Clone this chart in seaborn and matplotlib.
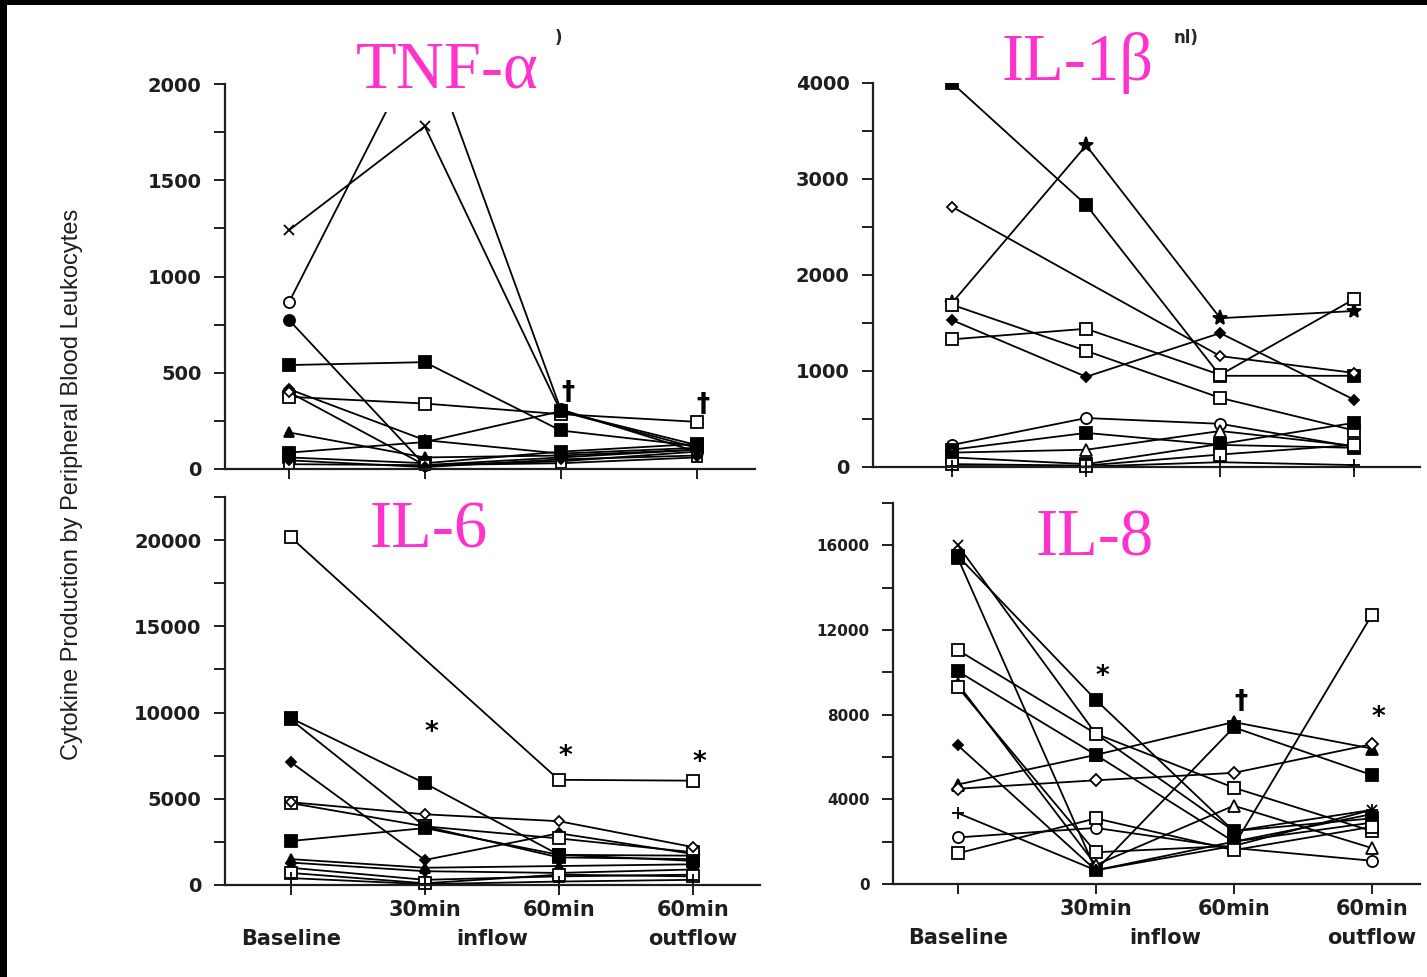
import numpy as np
import pandas as pd
import seaborn as sns
import matplotlib
matplotlib.use("Agg")
import matplotlib.pyplot as plt
from matplotlib.patches import Rectangle

# time points (x categories)
times = ["Baseline", "30min inflow", "60min inflow", "60min outflow"]
x_labels = ["\nBaseline", "30min", "60min", "60min\noutflow"]

# one row per patient, values at the 4 time points
tnf_values = [
    [1240, 1780, 300, 110],
    [865, 2250, 310, 90],
    [775, 20, 60, 100],
    [540, 555, 200, 120],
    [415, 150, 80, 110],
    [375, 340, 285, 245],
    [400, 20, 40, 90],
    [190, 60, 70, 100],
    [85, 140, 300, 125],
    [60, 30, 90, 130],
    [25, 20, 30, 60],
    [45, 10, 50, 70],
]
il1_values = [
    [4000, 2730, 950, 950],
    [1710, 3350, 1550, 1625],
    [2710, 1930, 1155, 980],
    [1690, 1210, 720, 380],
    [1530, 940, 1395, 700],
    [1330, 1440, 960, 1750],
    [230, 510, 450, 210],
    [180, 355, 230, 200],
    [150, 180, 375, 220],
    [100, 30, 240, 460],
    [30, 15, 130, 230],
    [10, 5, 50, 20],
]
il6_values = [
    [20170, 13100, 6100, 6050],
    [9680, 5900, 1750, 1700],
    [9600, 3400, 1600, 1500],
    [7130, 1450, 3000, 1800],
    [4750, 3400, 2700, 1900],
    [4800, 4100, 3700, 2200],
    [2550, 3300, 1750, 1400],
    [1500, 1000, 1100, 1200],
    [1300, 800, 700, 900],
    [1000, 300, 500, 600],
    [700, 100, 600, 500],
    [400, 50, 200, 300],
]
il8_values = [
    [16000, 7100, 2500, 3500],
    [15500, 8700, 2500, 3100],
    [15400, 650, 7400, 5150],
    [11050, 7100, 4550, 2500],
    [10050, 6100, 2000, 2900],
    [9450, 900, 3700, 1700],
    [9300, 1500, 1800, 12700],
    [6550, 650, 2000, 3300],
    [4700, 6100, 7650, 6400],
    [4500, 4900, 5250, 6600],
    [3350, 650, 1800, 3500],
    [2200, 2650, 1700, 1100],
    [1450, 3100, 1600, 2700],
]

# significance marks: (time index, value, symbol)
tnf_marks = [(2, 395, "†"), (3, 330, "†")]
il6_marks = [(1, 8800, "*"), (2, 7400, "*"), (3, 7070, "*")]
il8_marks = [(1, 9770, "*"), (2, 8590, "†"), (3, 7830, "*")]

# marker styles (marker, filled, size); a 4th item lists the points that get a marker
tnf_styles = [("x", True, 7), ("o", False, 8), ("o", True, 8), ("s", True, 8),
              ("D", True, 5), ("s", False, 8), ("D", False, 5), ("^", True, 7),
              ("s", True, 8), ("s", True, 8), ("s", False, 7), ("D", True, 5)]
il1_styles = [("s", True, 8), ("*", True, 11), ("D", False, 5, [0, 2, 3]),
              ("s", False, 8), ("D", True, 5), ("s", False, 8), ("o", False, 8),
              ("s", True, 8), ("^", False, 8), ("s", True, 8), ("s", False, 8),
              ("+", True, 8)]
il6_styles = [("s", False, 8, [0, 2, 3]), ("s", True, 8), ("s", True, 8),
              ("D", True, 5), ("s", False, 8), ("D", False, 5), ("s", True, 8),
              ("^", True, 7), ("D", True, 5), ("o", True, 6), ("s", False, 8),
              ("+", True, 8)]
il8_styles = [("x", True, 7), ("s", True, 8), ("s", True, 8), ("s", False, 8),
              ("s", True, 8), ("^", False, 8), ("s", False, 8), ("D", True, 5),
              ("^", True, 8), ("D", False, 6), ("+", True, 8), ("o", False, 8),
              ("s", False, 8)]

sns.set_style("ticks")
plt.rcParams["font.family"] = ["DejaVu Sans"]

W, H = 1427, 977
fig = plt.figure(figsize=(W / 100, H / 100), dpi=100)
x_pos = np.arange(len(times))
pink = "#ff33cc"
ink = "#1e1e1e"


def rect_px(left, right, zero_px, top_px, top_val, lo_val):
    ppu = (zero_px - top_px) / top_val
    bottom = zero_px - lo_val * ppu
    return [left / W, (H - bottom) / H, (right - left) / W, (bottom - top_px) / H]


def panel(rect, xlim, top_val, values, styles, majors, minors, marks,
          ysize=14, bottom=False):
    lo = -0.02 * top_val
    ax = fig.add_axes(rect)
    for vals, st in zip(values, styles):
        m, filled, ms = st[:3]
        every = st[3] if len(st) > 3 else None
        sns.lineplot(x=x_pos, y=vals, ax=ax, color="black", lw=1.3,
                     marker=m, markersize=ms, markevery=every,
                     markerfacecolor="black" if filled else "white",
                     markeredgecolor="black", markeredgewidth=1.3)
    ax.set_xlim(*xlim)
    ax.set_ylim(lo, top_val)
    sns.despine(ax=ax)
    ax.spines["bottom"].set_position(("data", 0))
    ax.spines["left"].set_bounds(0, top_val)
    for s in ["left", "bottom"]:
        ax.spines[s].set_linewidth(1.6)
        ax.spines[s].set_color(ink)
    ax.set_yticks(majors, [str(v) for v in majors])
    ax.set_yticks(minors, minor=True)
    ax.tick_params(axis="y", which="both", length=8, width=1.4, pad=9,
                   labelsize=ysize, colors=ink)
    ax.set_xticks(x_pos)
    ax.tick_params(axis="x", which="major", length=7, width=1.4, pad=4,
                   labelsize=15, colors=ink)
    if bottom:
        ax.set_xticklabels(x_labels)
        ax.set_xticks([1.5], ["\ninflow"], minor=True)
        ax.tick_params(axis="x", which="minor", length=0, pad=11,
                       labelsize=15, colors=ink)
        for lab in ax.get_xticklabels() + ax.get_xticklabels(minor=True):
            lab.set_linespacing(1.55)
    else:
        ax.set_xticklabels([])
    for lab in ax.get_xticklabels() + ax.get_xticklabels(minor=True) + ax.get_yticklabels():
        lab.set_fontweight("bold")
    for xi, v, sym in marks:
        ax.text(xi + 0.05, v, sym, ha="center", va="center", fontsize=19,
                weight="bold", color="black")
    ax.set_xlabel("")
    ax.set_ylabel("")
    return ax


panel(rect_px(225, 755, 469, 84, 2000, -40), (-0.47, 3.43), 2000, tnf_values,
      tnf_styles, [0, 500, 1000, 1500, 2000], [250, 750, 1250, 1750], tnf_marks)
panel(rect_px(873, 1420, 467, 83, 4000, -80), (-0.59, 3.49), 4000, il1_values,
      il1_styles, [0, 1000, 2000, 3000, 4000], [500, 1500, 2500, 3500], [])
panel(rect_px(225, 760, 885, 497, 22500, -450), (-0.49, 3.5), 22500, il6_values,
      il6_styles, [0, 5000, 10000, 15000, 20000],
      [2500, 7500, 12500, 17500, 22500], il6_marks, bottom=True)
panel(rect_px(893, 1420, 884, 503, 18000, -360), (-0.47, 3.35), 18000, il8_values,
      il8_styles, [0, 4000, 8000, 12000, 16000],
      [2000, 6000, 10000, 14000, 18000], il8_marks, ysize=11, bottom=True)

# pink panel names pasted over the scan
fig.text(447 / W, (H - 88) / H, "TNF-α", color=pink, fontsize=48,
         family="Liberation Serif", ha="center", va="baseline", zorder=10,
         bbox=dict(facecolor="white", edgecolor="none", pad=7))
fig.text(1078 / W, (H - 80) / H, "IL-1β", color=pink, fontsize=48,
         family="Liberation Serif", ha="center", va="baseline", zorder=10)
fig.text(429 / W, (H - 547) / H, "IL-6", color=pink, fontsize=48,
         family="Liberation Serif", ha="center", va="baseline", zorder=10)
fig.text(1095 / W, (H - 555) / H, "IL-8", color=pink, fontsize=48,
         family="Liberation Serif", ha="center", va="baseline", zorder=10)
fig.text(558 / W, (H - 38) / H, ")", fontsize=12, weight="bold",
         ha="center", va="center")
fig.text(1186 / W, (H - 38) / H, "nl)", fontsize=12, weight="bold",
         ha="center", va="center")

fig.text(72 / W, (H - 484) / H,
         "Cytokine Production by Peripheral Blood Leukocytes",
         rotation=90, ha="center", va="center", fontsize=17,
         family="Liberation Sans", color=ink)

# black scan border at top and left
fig.add_artist(Rectangle((0, 1 - 5 / H), 1, 5 / H, transform=fig.transFigure,
                         facecolor="black", edgecolor="none"))
fig.add_artist(Rectangle((0, 0), 7 / W, 1, transform=fig.transFigure,
                         facecolor="black", edgecolor="none"))

fig.savefig("out.png", dpi=100)
